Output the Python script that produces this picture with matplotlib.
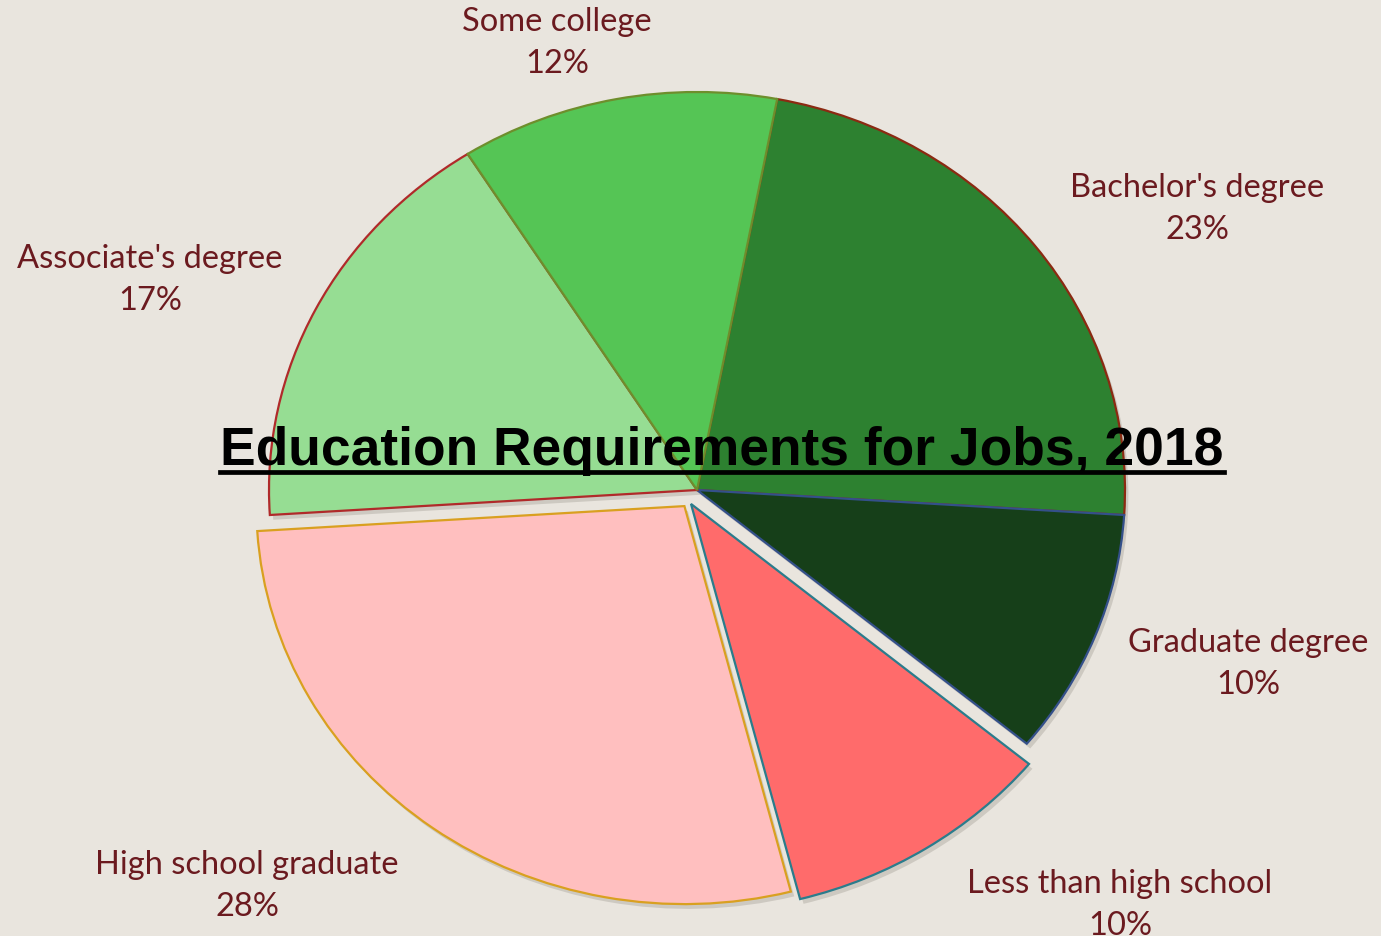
import matplotlib
matplotlib.use("Agg")
import matplotlib.pyplot as plt
from matplotlib.patches import Wedge
from matplotlib.lines import Line2D

categories = ["Bachelor's degree", "Graduate degree", "Less than high school",
              "High school graduate", "Associate's degree", "Some college"]
shares = [23, 10, 10, 28, 17, 12]
explode = [0, 0, 0, 0.05, 0, 0]
colors = ["#2d8130", "#163f19", "#ff6b6b", "#ffbfbf", "#96dd93", "#55c555"]
edges = ["#8b2a12", "#34508a", "#2b7c8c", "#d9a020", "#b02a2a", "#6e8e2c"]
title = "Education Requirements for Jobs, 2018"

BG = "#e9e5de"
LABEL = "#6b1a1f"

W, H = 1381, 937
fig = plt.figure(figsize=(W / 100, H / 100), dpi=100, facecolor=BG)
ax = fig.add_axes([0, 0, 1, 1])
ax.set_facecolor(BG)

wedges, _ = ax.pie(shares, explode=explode, colors=colors, startangle=79.2,
                   counterclock=False, wedgeprops=dict(linewidth=1.6))
# the "Less than high school" slice is pulled out and slightly enlarged
lt = wedges[2]
lt.set_center((lt.center[0] - 0.014, lt.center[1] - 0.035))
lt.set_radius(1.025)
lt.set_zorder(3)

for w, ec in zip(wedges, edges):
    w.set_edgecolor(ec)
    sh = Wedge((w.center[0] + 0.008, w.center[1] - 0.012), w.r, w.theta1, w.theta2,
               facecolor="#9a958c", edgecolor="none", alpha=0.35, zorder=0.5)
    ax.add_patch(sh)

cx, cy = 697, 491
rx, ry = 428, 398
ax.set_aspect("auto")
ax.set_xlim(-cx / rx, (W - cx) / rx)
ax.set_ylim(-(H - cy) / ry, cy / ry)
ax.axis("off")

label_pos = {
    "Bachelor's degree": (1197, 209),
    "Graduate degree": (1248, 664),
    "Less than high school": (1120, 905),
    "High school graduate": (247, 886),
    "Associate's degree": (150, 280),
    "Some college": (557, 43),
}
for cat, v in zip(categories, shares):
    px, py = label_pos[cat]
    fig.text(px / W, 1 - py / H, f"{cat}\n{v}%", ha="center", va="center",
             fontsize=23.5, color=LABEL, family="Lato", linespacing=1.48)

t = fig.text(722 / W, 1 - 465 / H, title, ha="center", va="baseline",
             fontsize=38.4, fontweight="bold", family="Liberation Sans",
             color="black", zorder=10)
fig.canvas.draw()
bb = t.get_window_extent()
uy = 1 - 473 / H
fig.add_artist(Line2D([bb.x0 / W, bb.x1 / W], [uy, uy], color="black",
                      linewidth=3.4, transform=fig.transFigure, zorder=10))

fig.savefig("out.png", dpi=100, facecolor=BG)
